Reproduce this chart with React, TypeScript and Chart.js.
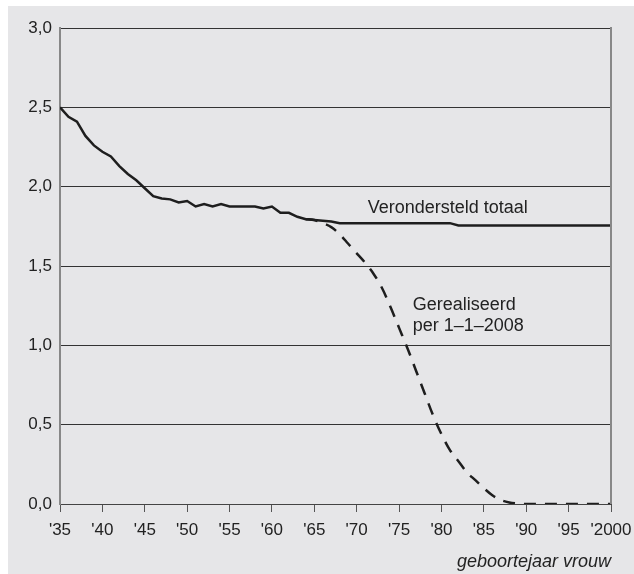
import React, { useEffect, useRef } from 'react';
import { Chart, registerables } from 'chart.js';

Chart.register(...registerables);

const FONT = "'Liberation Sans', Arial, Helvetica, sans-serif";

// Birth year of the woman (x axis)
const years = [
  1935, 1936, 1937, 1938, 1939, 1940, 1941, 1942, 1943, 1944,
  1945, 1946, 1947, 1948, 1949, 1950, 1951, 1952, 1953, 1954,
  1955, 1956, 1957, 1958, 1959, 1960, 1961, 1962, 1963, 1964,
  1965, 1966, 1967, 1968, 1969, 1970, 1971, 1972, 1973, 1974,
  1975, 1976, 1977, 1978, 1979, 1980, 1981, 1982, 1983, 1984,
  1985, 1986, 1987, 1988, 1989, 1990, 1991, 1992, 1993, 1994,
  1995, 1996, 1997, 1998, 1999, 2000,
];

// "Verondersteld totaal"
const assumedTotal = [
  2.5, 2.44, 2.41, 2.32, 2.26, 2.22, 2.19, 2.13, 2.08, 2.04,
  1.99, 1.94, 1.925, 1.92, 1.9, 1.91, 1.875, 1.89, 1.875, 1.89,
  1.875, 1.875, 1.875, 1.875, 1.862, 1.875, 1.835, 1.835, 1.81, 1.795,
  1.79, 1.785, 1.78, 1.77, 1.77, 1.77, 1.77, 1.77, 1.77, 1.77,
  1.77, 1.77, 1.77, 1.77, 1.77, 1.77, 1.77, 1.755, 1.755, 1.755,
  1.755, 1.755, 1.755, 1.755, 1.755, 1.755, 1.755, 1.755, 1.755, 1.755,
  1.755, 1.755, 1.755, 1.755, 1.755, 1.755,
];

// "Gerealiseerd per 1-1-2008"
const realised = [
  null, null, null, null, null, null, null, null, null, null,
  null, null, null, null, null, null, null, null, null, null,
  null, null, null, null, null, null, null, null, null, 1.795,
  1.79, 1.77, 1.745, 1.7, 1.64, 1.58, 1.52, 1.45, 1.36, 1.24,
  1.11, 0.98, 0.84, 0.7, 0.56, 0.44, 0.34, 0.27, 0.2, 0.15,
  0.1, 0.055, 0.025, 0.01, 0.003, 0, 0, 0, 0, 0,
  0, 0, 0, 0, 0, 0,
];

const xTicks = [1935, 1940, 1945, 1950, 1955, 1960, 1965, 1970, 1975, 1980, 1985, 1990, 1995, 2000];
const xTickLabels = ["'35", "'40", "'45", "'50", "'55", "'60", "'65", "'70", "'75", "'80", "'85", "'90", "'95", "'2000"];

const labelTotal = 'Verondersteld totaal';
const labelRealised = ['Gerealiseerd', 'per 1–1–2008'];
const xTitle = 'geboortejaar vrouw';

const toPoints = (vals: (number | null)[]) =>
  years
    .map((y, i) => ({ x: y, y: vals[i] }))
    .filter((p) => p.y !== null) as { x: number; y: number }[];

const decorPlugin = {
  id: 'decor',
  afterDraw(chart: any) {
    const { ctx, chartArea, scales } = chart;
    const xs = scales.x;
    const ys = scales.y;
    ctx.save();
    // right border
    ctx.strokeStyle = '#888';
    ctx.lineWidth = 2;
    ctx.beginPath();
    ctx.moveTo(chartArea.right, chartArea.top - 1);
    ctx.lineTo(chartArea.right, chartArea.bottom);
    ctx.stroke();
    // annotations
    ctx.fillStyle = '#222';
    ctx.font = `18px ${FONT}`;
    ctx.textAlign = 'left';
    ctx.textBaseline = 'middle';
    ctx.fillText(labelTotal, xs.getPixelForValue(1971.3), ys.getPixelForValue(1.864));
    ctx.fillText(labelRealised[0], xs.getPixelForValue(1976.6), ys.getPixelForValue(1.253));
    ctx.fillText(labelRealised[1], xs.getPixelForValue(1976.6), ys.getPixelForValue(1.123));
    ctx.restore();
  },
};

export default function App() {
  const ref = useRef<HTMLCanvasElement | null>(null);

  useEffect(() => {
    if (!ref.current) return;
    const chart = new Chart(ref.current, {
      type: 'line',
      data: {
        datasets: [
          {
            label: 'Gerealiseerd per 1-1-2008',
            data: toPoints(realised),
            borderColor: '#1e1e1e',
            borderWidth: 2.5,
            borderDash: [12, 9],
            pointRadius: 0,
            tension: 0.3,
            cubicInterpolationMode: 'monotone',
            fill: false,
          },
          {
            label: 'Verondersteld totaal',
            data: toPoints(assumedTotal),
            borderColor: '#1e1e1e',
            borderWidth: 2.5,
            pointRadius: 0,
            tension: 0,
            fill: false,
          },
        ],
      },
      options: {
        animation: false,
        responsive: false,
        devicePixelRatio: 1,
        layout: { padding: { left: 0, right: 23, top: 22, bottom: 0 } },
        plugins: {
          legend: { display: false },
          tooltip: { enabled: false },
          title: { display: false },
        },
        scales: {
          x: {
            type: 'linear',
            min: 1935,
            max: 2000,
            afterBuildTicks: (s: any) => {
              s.ticks = xTicks.map((v) => ({ value: v }));
            },
            afterFit: (s: any) => {
              s.height = 70;
              s.paddingRight = 0;
              s.paddingLeft = 0;
            },
            ticks: {
              autoSkip: false,
              maxRotation: 0,
              padding: 8,
              color: '#222',
              font: { family: FONT, size: 17 },
              callback: (v: any) => {
                const i = xTicks.indexOf(Number(v));
                return i >= 0 ? xTickLabels[i] : '';
              },
            },
            grid: {
              drawOnChartArea: false,
              drawTicks: true,
              tickLength: 8,
              color: '#555',
              lineWidth: 1,
            },
            border: { color: '#444', width: 1 },
            title: {
              display: true,
              text: xTitle,
              align: 'end',
              color: '#222',
              font: { family: FONT, size: 18, style: 'italic' },
              padding: { top: 0, bottom: 1 },
            },
          },
          y: {
            min: 0,
            max: 3,
            afterFit: (s: any) => {
              s.width = 52;
              s.paddingTop = 0;
              s.paddingBottom = 0;
            },
            ticks: {
              stepSize: 0.5,
              padding: 8,
              color: '#222',
              font: { family: FONT, size: 17 },
              callback: (v: any) => Number(v).toFixed(1).replace('.', ','),
            },
            grid: { color: '#333', lineWidth: 1, drawTicks: false },
            border: { color: '#888', width: 2 },
          },
        },
      },
      plugins: [decorPlugin],
    } as any);
    return () => chart.destroy();
  }, []);

  return (
    <div
      style={{
        position: 'absolute',
        left: 0,
        top: 0,
        width: 634,
        height: 574,
        background: '#fff',
        overflow: 'hidden',
      }}
    >
      <div
        style={{
          position: 'absolute',
          left: 8,
          top: 6,
          width: 626,
          height: 568,
          background: '#e6e6e8',
        }}
      >
        <canvas ref={ref} width={626} height={568} style={{ display: 'block' }} />
      </div>
    </div>
  );
}
